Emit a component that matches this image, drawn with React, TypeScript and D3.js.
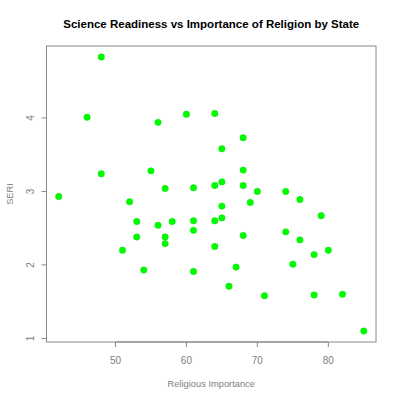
import React from "react";
import * as d3 from "d3";

const religiousImportance = [
  48, 46, 56, 60, 64, 48, 55, 57, 61, 64,
  42, 68, 65, 68, 65, 68, 70, 74, 76, 69,
  65, 64, 65, 79, 68, 74, 76, 64, 80, 78,
  67, 75, 66, 71, 78, 82, 85, 52, 53, 56,
  58, 61, 61, 53, 57, 57, 51, 54, 61,
];
const seri = [
  4.83, 4.01, 3.94, 4.05, 4.06, 3.24, 3.28, 3.04, 3.05, 3.08,
  2.93, 3.73, 3.58, 3.29, 3.13, 3.08, 3.0, 3.0, 2.89, 2.85,
  2.8, 2.6, 2.64, 2.67, 2.4, 2.45, 2.34, 2.25, 2.2, 2.14,
  1.97, 2.01, 1.71, 1.58, 1.59, 1.6, 1.1, 2.86, 2.59, 2.54,
  2.59, 2.6, 2.47, 2.38, 2.38, 2.29, 2.2, 1.93, 1.91,
];
const xTicks = [50, 60, 70, 80];
const yTicks = [1, 2, 3, 4];
const title = "Science Readiness vs Importance of Religion by State";
const xLabel = "Religious Importance";
const yLabel = "SERI";

export default function App() {
  const W = 400, H = 399;
  const left = 46.5, right = 376, top = 46, bottom = 342;
  const pad = (e: [number, number]) => {
    const r = e[1] - e[0];
    return [e[0] - r * 0.04, e[1] + r * 0.04];
  };
  const xs = d3.scaleLinear().domain(pad(d3.extent(religiousImportance) as [number, number])).range([left, right]);
  const ys = d3.scaleLinear().domain(pad(d3.extent(seri) as [number, number])).range([bottom, top]);
  const axisCol = "#888";
  const textCol = "#808080";
  const font = "Liberation Sans, Arial, Helvetica, sans-serif";
  return (
    <svg width={W} height={H} style={{ position: "absolute", left: 0, top: 0, background: "#fff" }} fontFamily={font}>
      <text x={(left + right) / 2} y={27.5} textAnchor="middle" fontWeight="bold" fontSize={11.5} fill="#000">{title}</text>
      <rect x={left} y={top} width={right - left} height={bottom - top} fill="none" stroke={axisCol} strokeWidth={1} />
      {/* x axis */}
      <line x1={xs(xTicks[0])} x2={xs(xTicks[xTicks.length - 1])} y1={bottom} y2={bottom} stroke={axisCol} />
      {xTicks.map((t) => (
        <g key={"x" + t}>
          <line x1={xs(t)} x2={xs(t)} y1={bottom} y2={bottom + 5} stroke={axisCol} />
          <text x={xs(t)} y={364} textAnchor="middle" fontSize={10} fill={textCol}>{t}</text>
        </g>
      ))}
      <text x={(left + right) / 2} y={387} textAnchor="middle" fontSize={9.3} fill={textCol}>{xLabel}</text>
      {/* y axis */}
      <line x1={left} x2={left} y1={ys(yTicks[0])} y2={ys(yTicks[yTicks.length - 1])} stroke={axisCol} />
      {yTicks.map((t) => (
        <g key={"y" + t}>
          <line x1={left - 5} x2={left} y1={ys(t)} y2={ys(t)} stroke={axisCol} />
          <text transform={`translate(34,${ys(t)}) rotate(-90)`} textAnchor="middle" fontSize={10} fill={textCol}>{t}</text>
        </g>
      ))}
      <text transform={`translate(12.5,${(top + bottom) / 2}) rotate(-90)`} textAnchor="middle" fontSize={9.3} fill={textCol}>{yLabel}</text>
      {religiousImportance.map((v, i) => (
        <circle key={i} cx={xs(v)} cy={ys(seri[i])} r={3.2} fill="#00ff00" stroke="#00dd00" strokeWidth={0.5} />
      ))}
    </svg>
  );
}
